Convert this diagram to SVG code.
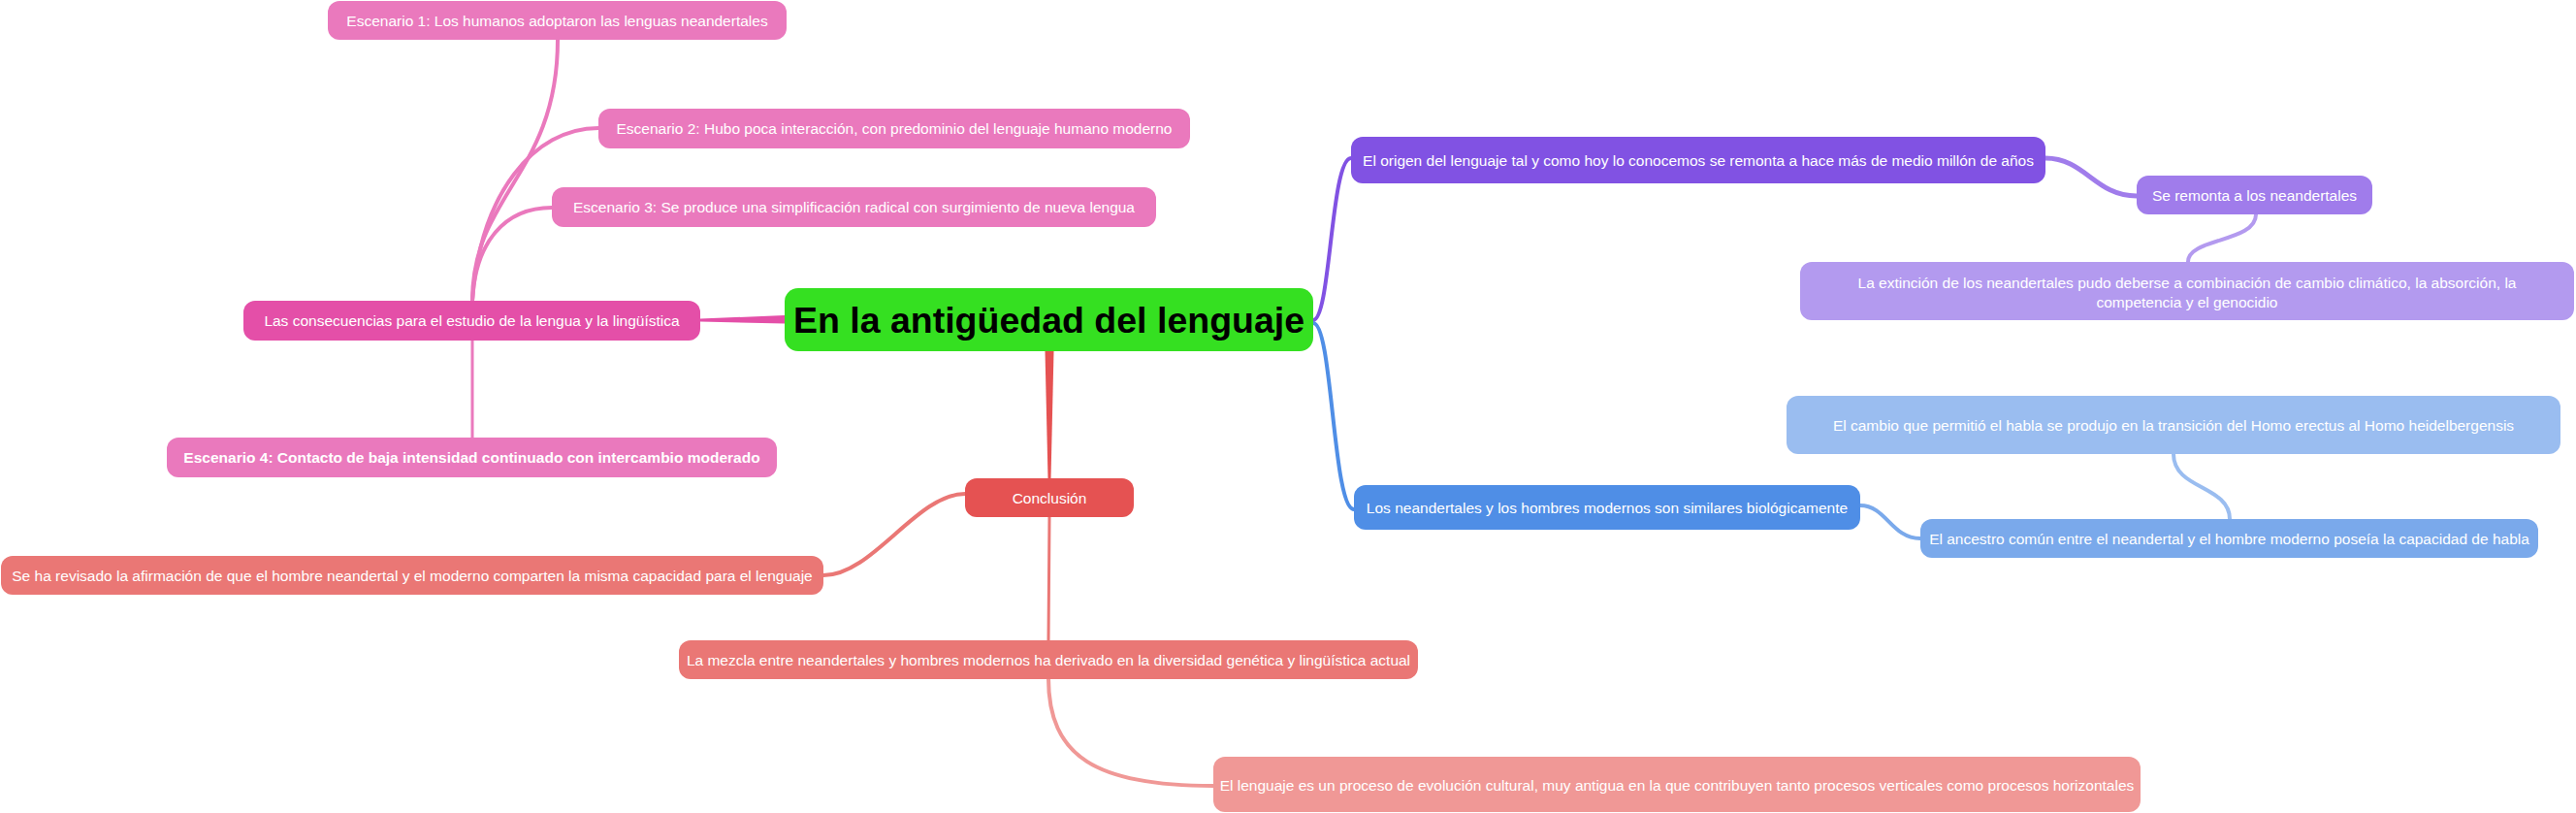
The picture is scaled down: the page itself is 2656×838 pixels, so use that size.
<svg xmlns="http://www.w3.org/2000/svg" width="2656" height="838" viewBox="0 0 2656 838">
<style>
.t{font-family:"Liberation Sans",Arial,sans-serif;font-size:15.5px;fill:#ffffff;text-anchor:middle;dominant-baseline:central}
.b{font-weight:bold}
.c{fill:none;stroke-linecap:round}
</style>
<rect width="2656" height="838" fill="#ffffff"/>
<g id="connectors">
<polygon points="722,328.5 809,325 809,333.5 722,331.5" fill="#E44FA8"/>
<path class="c" d="M487 310 C487 200 575 180 575 41" stroke="#EA79BD" stroke-width="4"/>
<path class="c" d="M487 310 C495 200 550 132 617 132" stroke="#EA79BD" stroke-width="4"/>
<path class="c" d="M487 310 C490 250 520 214 569 214" stroke="#EA79BD" stroke-width="4"/>
<path class="c" d="M487 351 L487 451" stroke="#EA79BD" stroke-width="3"/>
<polygon points="1077.5,362 1086.5,362 1083.5,493 1080.5,493" fill="#E55252"/>
<path class="c" d="M995 509 C945 509 900 593 849 593" stroke="#EA7775" stroke-width="4"/>
<path class="c" d="M1082 533 L1081 660" stroke="#EA7775" stroke-width="3"/>
<path class="c" d="M1081 699 C1081 780 1130 810 1251 810" stroke="#F09896" stroke-width="4"/>
<path class="c" d="M1354 330 C1372 330 1372 163 1393 163" stroke="#8152E3" stroke-width="4"/>
<path class="c" d="M1354 333 C1374 333 1374 525 1396 525" stroke="#4F8EE6" stroke-width="4"/>
<path class="c" d="M2109 163 C2150 163 2160 202 2203 202" stroke="#A07CEB" stroke-width="5"/>
<path class="c" d="M2326 221 C2326 250 2256 245 2256 270" stroke="#B39AEF" stroke-width="4"/>
<path class="c" d="M1918 521 C1945 521 1950 555 1980 555" stroke="#7AA9EB" stroke-width="4"/>
<path class="c" d="M2299 535 C2299 500 2241 505 2241 468" stroke="#9ABDF0" stroke-width="4"/>
</g>
<g id="center">
<rect x="809" y="297" width="545" height="65" rx="14" fill="#35E021"/>
<text x="1081.5" y="330" class="t b" style="font-size:37.5px;fill:#000000">En la antigüedad del lenguaje</text>
</g>
<g id="consecuencias">
<rect x="251" y="310" width="471" height="41" rx="12" fill="#E44FA8"/>
<text x="486.5" y="330.5" class="t">Las consecuencias para el estudio de la lengua y la lingüística</text>
</g>
<g id="esc1">
<rect x="338" y="1" width="473" height="40" rx="12" fill="#EA79BD"/>
<text x="574.5" y="21" class="t">Escenario 1: Los humanos adoptaron las lenguas neandertales</text>
</g>
<g id="esc2">
<rect x="617" y="112" width="610" height="41" rx="12" fill="#EA79BD"/>
<text x="922" y="132.5" class="t">Escenario 2: Hubo poca interacción, con predominio del lenguaje humano moderno</text>
</g>
<g id="esc3">
<rect x="569" y="193" width="623" height="41" rx="12" fill="#EA79BD"/>
<text x="880.5" y="213.5" class="t">Escenario 3: Se produce una simplificación radical con surgimiento de nueva lengua</text>
</g>
<g id="esc4">
<rect x="172" y="451" width="629" height="41" rx="12" fill="#EA79BD"/>
<text x="486.5" y="471.5" class="t b">Escenario 4: Contacto de baja intensidad continuado con intercambio moderado</text>
</g>
<g id="conclusion">
<rect x="995" y="493" width="174" height="40" rx="12" fill="#E55252"/>
<text x="1082" y="513" class="t">Conclusión</text>
</g>
<g id="revisado">
<rect x="1" y="573" width="848" height="40" rx="12" fill="#EA7775"/>
<text x="425" y="593" class="t">Se ha revisado la afirmación de que el hombre neandertal y el moderno comparten la misma capacidad para el lenguaje</text>
</g>
<g id="mezcla">
<rect x="700" y="660" width="762" height="40" rx="12" fill="#EA7775"/>
<text x="1081" y="680" class="t">La mezcla entre neandertales y hombres modernos ha derivado en la diversidad genética y lingüística actual</text>
</g>
<g id="lenguaje">
<rect x="1251" y="780" width="956" height="57" rx="12" fill="#F09896"/>
<text x="1729" y="809" class="t">El lenguaje es un proceso de evolución cultural, muy antigua en la que contribuyen tanto procesos verticales como procesos horizontales</text>
</g>
<g id="origen">
<rect x="1393" y="141" width="716" height="48" rx="12" fill="#8152E3"/>
<text x="1751" y="165" class="t">El origen del lenguaje tal y como hoy lo conocemos se remonta a hace más de medio millón de años</text>
</g>
<g id="remonta">
<rect x="2203" y="181" width="243" height="40" rx="12" fill="#A07CEB"/>
<text x="2324.5" y="201" class="t">Se remonta a los neandertales</text>
</g>
<g id="extincion">
<rect x="1856" y="270" width="798" height="60" rx="12" fill="#B39AEF"/>
<text x="2255" y="291" class="t">La extinción de los neandertales pudo deberse a combinación de cambio climático, la absorción, la</text>
<text x="2255" y="311" class="t">competencia y el genocidio</text>
</g>
<g id="neandertales">
<rect x="1396" y="500" width="522" height="46" rx="12" fill="#4F8EE6"/>
<text x="1657" y="523" class="t">Los neandertales y los hombres modernos son similares biológicamente</text>
</g>
<g id="ancestro">
<rect x="1980" y="535" width="637" height="40" rx="12" fill="#7AA9EB"/>
<text x="2298.5" y="555" class="t">El ancestro común entre el neandertal y el hombre moderno poseía la capacidad de habla</text>
</g>
<g id="cambio">
<rect x="1842" y="408" width="798" height="60" rx="12" fill="#9ABDF0"/>
<text x="2241" y="438" class="t">El cambio que permitió el habla se produjo en la transición del Homo erectus al Homo heidelbergensis</text>
</g>
</svg>
